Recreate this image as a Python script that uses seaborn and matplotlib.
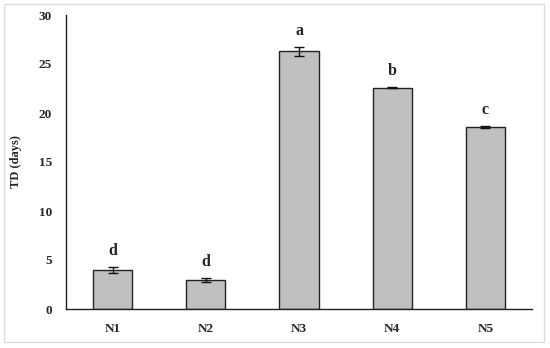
import matplotlib
matplotlib.use("Agg")
import matplotlib.pyplot as plt
import seaborn as sns
import pandas as pd
import numpy as np
from matplotlib.patches import Rectangle

categories = ["N1", "N2", "N3", "N4", "N5"]
values = [4.0, 3.0, 26.3, 22.6, 18.6]
errors = [0.3, 0.2, 0.45, 0.05, 0.1]
letters = ["d", "d", "a", "b", "c"]

sns.set_style("white")
plt.rcParams["font.family"] = ["Liberation Serif", "DejaVu Serif"]
plt.rcParams["font.weight"] = "bold"

df = pd.DataFrame({"cat": categories, "val": values})

fig = plt.figure(figsize=(5.5, 3.48), dpi=100)
ax = fig.add_axes([66/550, (348-309)/348, (532-66)/550, (309-15)/348])

sns.barplot(data=df, x="cat", y="val", color="#c0c0c0", width=0.42,
            edgecolor="#222222", linewidth=1.0, saturation=1, ax=ax, errorbar=None)
ax.errorbar(np.arange(len(categories)), values, yerr=errors, fmt="none",
            ecolor="#111111", elinewidth=1.0, capsize=3.5, capthick=1.0)

for i, (v, e, l) in enumerate(zip(values, errors, letters)):
    ax.text(i, v + e + 0.8, l, ha="center", va="bottom", fontsize=11.5, fontweight="bold")

ax.set_xlim(-0.5, 4.5)
ax.set_ylim(0, 30)
ax.set_yticks(range(0, 31, 5))
ax.set_xticks(np.arange(-0.5, 5.0, 1.0))
ax.set_xticklabels([])
ax.set_xticks(np.arange(5), minor=True)
ax.set_xticklabels(categories, minor=True)
ax.tick_params(axis="x", which="major", direction="out", length=4, width=1, color="#222222")
ax.tick_params(axis="x", which="minor", length=0, pad=10, labelsize=9.5)
ax.tick_params(axis="y", direction="out", length=5, width=1, color="#222222", labelsize=9.5, pad=5)
for lab in ax.get_xticklabels(minor=True) + ax.get_yticklabels():
    lab.set_fontweight("bold")

ax.set_xlabel("")
ax.set_ylabel("TD (days)", fontsize=9, fontweight="bold", labelpad=12)

for s in ["top", "right"]:
    ax.spines[s].set_visible(False)
for s in ["left", "bottom"]:
    ax.spines[s].set_color("#222222")
    ax.spines[s].set_linewidth(1.0)

fig.patches.append(Rectangle((4/550, (348-342)/348), 540/550, 338/348,
                             transform=fig.transFigure, fill=False,
                             edgecolor="#dddddd", linewidth=1.0))

fig.savefig("out.png", dpi=100)
